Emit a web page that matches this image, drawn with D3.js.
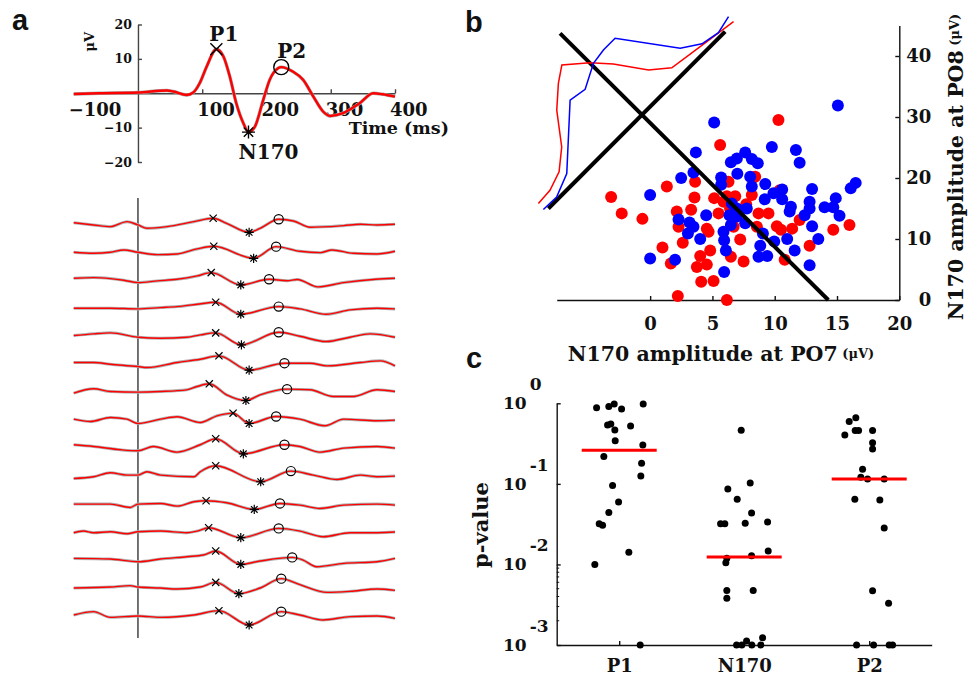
<!DOCTYPE html>
<html>
<head>
<meta charset="utf-8">
<script src="https://cdn.jsdelivr.net/npm/d3@7"></script>
<style>
  body { margin: 0; background: #fff; }
  svg text { font-family: "DejaVu Serif", serif; font-weight: bold; fill: #111; }
  .letter { font-family: "Liberation Sans", Arial, sans-serif; font-size: 29px; }
</style>
</head>
<body>
<script>
// ---------- panel a : grand average ERP ----------
const erpTime = [-100, -60, 0, 45, 55, 76, 86, 96, 107, 122, 133, 143, 153, 164, 172, 182, 195, 205, 218, 223, 241, 257, 273, 288, 299, 319, 345, 366, 381, 400];
const erpAmp = [-0.2, 0, 0.2, 0.8, 0.5, -0.5, 0.2, 2.9, 7.8, 12.8, 10.7, 4.8, -2.9, -8.7, -11.3, -9.7, -1.9, 3.9, 7.3, 7.6, 6.3, 3.9, -1.0, -5.3, -6.6, -5.8, -2.9, 0, -0.3, -1.0];
const erpTicksX = [-100, 100, 200, 300, 400];
const erpTicksY = [-20, -10, 10, 20];
const peakNames = ['P1', 'N170', 'P2'];
const peakLat = [122, 172, 223];
const peakAmp = [12.8, -11.3, 7.6];

// single subject traces: [ms, μV] knots, peaks are kept apart
const traceKnots = [
  [[-100,3.3],[-69,-1.3],[-43,-4.7],[-17,5.3],[0,-1.3],[14,-8],[45,-4.7],[87,5.3],[138,2],[190,-8],[242,6.7],[268,-6],[320,-2.7],[346,0],[372,-1.3],[400,0]],
  [[-100,0],[-69,-2],[-43,0],[-22,4.7],[0,0],[30,-4.7],[61,-3.3],[92,6.7],[252,2],[284,-0.7],[302,4.7],[335,-2],[372,-3.3],[400,2]],
  [[-100,4],[-69,5.3],[-43,3.3],[-22,0],[0,-4.7],[30,-1.3],[61,2],[92,8.7],[232,-1],[248,1.5],[280,-13.3],[320,-4.7],[370,2],[400,4]],
  [[-100,0],[-69,0],[-43,0],[0,-1.3],[35,1.3],[61,3.3],[92,8],[252,-1.3],[293,-12],[330,-3.3],[372,0],[400,-1.3]],
  [[-100,1.3],[-69,4.7],[-43,6.7],[0,-2],[35,-4],[76,-2],[97,2.7],[252,0],[293,-10.7],[330,-2],[361,4.7],[400,-2]],
  [[-100,3.3],[-69,3.3],[-43,0],[0,-4.7],[14,-6.7],[61,3.3],[97,10],[268,2],[294,-3.3],[346,3.3],[377,6.7],[400,-3.3]],
  [[-100,-2],[-69,6.7],[-43,1.3],[0,0],[35,1.3],[76,4.7],[92,11.3],[138,-5.3],[190,-5.3],[268,4.7],[304,-8.7],[335,-8.7],[372,4.7],[400,1.3]],
  [[-100,2],[-74,-2.7],[-43,5.3],[-17,2],[0,-6.7],[35,2],[61,6.7],[97,-4.7],[123,8.7],[252,2],[291,-11.3],[320,2],[372,-1.3],[400,0]],
  [[-100,6.7],[-69,3.3],[-27,-3.3],[0,-5.3],[24,3.3],[61,-8],[97,6.7],[252,3.3],[283,-8],[320,0],[372,3.3],[400,0]],
  [[-100,-4.7],[-69,-1.3],[-43,6.7],[-17,2],[0,2],[14,8.7],[35,2],[87,-1.3],[97,8.7],[273,2],[310,-6.7],[346,2],[372,-1.3],[400,0]],
  [[-100,0],[-43,0],[-12,-6.7],[0,0],[35,1.3],[61,-4],[87,4.7],[138,2.7],[252,-2],[283,-8.7],[320,-2],[372,0],[400,-2]],
  [[-100,-1.3],[-85,2],[-69,-1.3],[-43,0.7],[-17,-3.3],[0,0.7],[35,2],[76,-1.3],[92,2],[252,2],[288,-9.3],[330,-1.3],[372,-1.3],[400,0]],
  [[-100,3.3],[-43,2],[0,-3.3],[35,2],[76,6.7],[102,10],[190,-2],[257,0],[278,-13.3],[320,-6.7],[372,-3.3],[400,3.3]],
  [[-100,0],[-43,2],[-12,4.7],[0,2],[35,0],[61,-2],[97,2],[190,0],[252,6.7],[294,-8.7],[330,-6.7],[372,-2],[400,-4.7]],
  [[-100,2],[-69,8.7],[-43,-2.7],[0,0],[35,-2.7],[87,2],[252,2],[288,-8],[330,-1.3],[372,0],[400,-4.7]]
];
const traceP1 = [[117,12],[118,12],[114,15.3],[121,12],[121,6.7],[126,16.7],[111,16.7],[148,14],[121,18.7],[121,20.7],[106,6.7],[110,8.7],[121,18],[121,11.3],[126,10.7]];
const traceN170 = [[173,-16],[180,-12],[160,-9.3],[160,-12],[161,-17.3],[173,-12],[168,-16.7],[173,-6.7],[164,-11.3],[191,-11.3],[181,-10.7],[160,-11.3],[160,-8.7],[157,-11.3],[173,-18]];
const traceP2 = [[219,10],[215,11.3],[204,2],[219,3.3],[219,8],[228,2],[232,6],[215,7.3],[228,6.7],[238,10],[221,1.3],[219,7.3],[240,5.3],[223,18.7],[223,8.7]];

// ---------- panel b : N170 amplitudes PO7 vs PO8 ----------
const blueX = [15.07, 5.14, 9.77, 11.7, 12.0, 3.67, 7.63, 6.96, 6.48, 8.16, 8.64, 7.0, 3.48, 2.49, 5.70, 5.70, 8.03, 8.16, 9.24, 0, 10.6, 9.9, 9.2, 10.6, 11.3, 11.2, 13.0, 12.8, 12.8, 12.4, 14.0, 14.9, 14.7, 15.2, 16.1, 16.5, 13.0, 13.5, 12.8, 11.6, 11.0, 9.96, 9.05, 8.84, 8.7, 9.4, 7.63, 7.76, 6.96, 6.37, 6.56, 6.96, 6.48, 5.89, 5.94, 6.08, 5.94, 4.5, 4.02, 2.28, 3.16, 3.48, 3.03, 0, 2.0];
const blueY = [31.9, 29.1, 25.1, 24.6, 22.5, 24.2, 24.2, 23.2, 22.6, 23.1, 22.4, 20.7, 20.9, 20.0, 20.1, 18.9, 20.2, 18.6, 19.0, 17.2, 18.1, 17.5, 16.5, 16.5, 15.3, 14.5, 18.2, 16.1, 15.0, 13.9, 15.2, 16.7, 15.2, 13.8, 18.3, 19.2, 12.1, 10.0, 5.7, 8.1, 10.0, 9.6, 10.9, 8.9, 7.1, 7.2, 12.6, 15.0, 13.7, 13.9, 15.8, 15.0, 12.3, 11.2, 9.8, 8.1, 4.6, 13.9, 10.0, 13.2, 12.7, 12.0, 10.9, 6.8, 6.6];
const redX = [10.3, 5.62, 1.34, -3.13, -2.28, -0.62, 3.61, 3.56, 2.14, 3.29, 2.28, 2.62, 0.99, 1.66, 2.22, 6.16, 4.1, 5.09, 3.75, 4.55, 4.02, 4.82, 4.69, 4.55, 5.14, 5.49, 6.29, 6.16, 6.83, 5.89, 6.48, 7.5, 7.23, 6.7, 8.16, 7.71, 8.7, 9.5, 8.57, 10.17, 10.5, 11.4, 12.0, 10.4, 10.8, 12.8, 14.7, 16.0, 8.43, 6.42];
const redY = [29.5, 25.4, 18.6, 16.9, 14.2, 13.3, 19.4, 16.8, 14.5, 14.8, 12.0, 9.4, 8.6, 6.0, 0.66, 0, 3.0, 3.1, 5.4, 5.8, 7.2, 8.1, 11.2, 11.7, 16.7, 14.2, 19.4, 17.0, 17.0, 16.1, 7.1, 6.3, 9.9, 12.0, 17.2, 15.7, 14.2, 14.2, 12.0, 12.1, 11.5, 11.7, 13.1, 18.0, 6.6, 8.9, 11.5, 12.3, 20.2, 15.0];
const ampTicksX = [0, 5, 10, 15, 20];
const ampTicksY = [0, 10, 20, 30, 40];
const cutLine = [[-7.23, 43.7], [14.3, 0]];
const projLine = [[-8.17, 15.0], [6.02, 44.0]];
// [position along projLine (0..1), density]
const blueDensity = [[-0.017,0.028],[0.056,0.023],[0.151,0.117],[0.368,0.612],[0.441,0.582],[0.538,0.707],[0.604,0.731],[0.670,0.731],[0.826,0.200],[0.900,0.077],[0.978,0.040],[1.052,0.082]];
const redDensity = [[-0.014,0.106],[0.056,0.117],[0.134,0.183],[0.212,0.341],[0.302,0.636],[0.382,0.813],[0.444,0.919],[0.530,0.735],[0.592,0.561],[0.675,0.271],[0.747,0.122],[0.854,0.082],[1.052,0.011]];

// ---------- panel c : p-values ----------
const pCategories = ['P1', 'N170', 'P2'];
// [jitter (fraction of band), p-value]
const pvalP1 = [[-0.181,0.883],[-0.083,0.910],[-0.040,0.981],[0.019,0.851],[0.192,0.981],[-0.093,0.538],[-0.067,0.554],[-0.035,0.467],[0.091,0.523],[-0.032,0.344],[0.189,0.304],[-0.123,0.218],[0.179,0.180],[0.173,0.125],[-0.053,0.0952],[-0.005,0.0597],[-0.083,0.0440],[-0.160,0.0321],[-0.133,0.0306],[0.077,0.0142],[-0.195,0.00996],[0.168,0.001]];
const pvalN170 = [[-0.024,0.462],[0.048,0.1027],[-0.131,0.0865],[-0.056,0.0644],[0.059,0.0436],[-0.189,0.0321],[-0.155,0.0321],[0.008,0.0324],[0.187,0.0337],[0.192,0.0147],[0.059,0.0128],[-0.139,0.0119],[-0.147,0.0105],[-0.139,0.00474],[-0.139,0.00381],[0.072,0.00474],[-0.061,0.001],[-0.019,0.001],[0.019,0.00112],[0.061,0.001],[0.133,0.001],[0.147,0.00123]];
const pvalP2 = [[-0.107,0.664],[-0.160,0.593],[-0.195,0.405],[-0.112,0.458],[-0.085,0.458],[0.027,0.458],[0.027,0.325],[0.027,0.271],[-0.053,0.152],[-0.067,0.121],[-0.013,0.115],[0.120,0.115],[-0.115,0.0644],[0.085,0.0632],[0.120,0.0284],[0.027,0.0047],[0.155,0.0033],[-0.101,0.001],[0.035,0.001],[0.160,0.001],[0.187,0.001]];
const pTicks = [1e-3, 1e-2, 1e-1, 1];

const svg = d3.select('body').append('svg').attr('width', 970).attr('height', 678);

function cross(g, x, y, s, w) {
  g.append('path').attr('d', `M${x-s},${y-s}L${x+s},${y+s}M${x-s},${y+s}L${x+s},${y-s}`)
    .attr('stroke', '#000').attr('stroke-width', w).attr('fill', 'none');
}
function star(g, x, y, s, w) {
  const d = s * 0.72;
  g.append('path').attr('d', `M${x},${y-s}V${y+s}M${x-s},${y}H${x+s}M${x-d},${y-d}L${x+d},${y+d}M${x-d},${y+d}L${x+d},${y-d}`)
    .attr('stroke', '#000').attr('stroke-width', w).attr('fill', 'none');
}
function ring(g, x, y, r, w) {
  g.append('circle').attr('cx', x).attr('cy', y).attr('r', r)
    .attr('stroke', '#000').attr('stroke-width', w).attr('fill', 'none');
}
const markerFns = [cross, star, ring];

// the d3 axis sets its own font on call, so restyle afterwards
function styleAxis(a, size, color) {
  a.attr('font-size', size).attr('font-family', 'DejaVu Serif');
  a.select('.domain').attr('stroke', color).attr('stroke-width', 1.4);
  a.selectAll('.tick line').attr('stroke', color).attr('stroke-width', 1.4);
  a.selectAll('.tick text').style('fill', '#111');
}

// ================= panel a (top) =================
const xA = d3.scaleLinear().domain([-100, 400]).range([73.7, 395]);
const yA = d3.scaleLinear().domain([-20, 20]).range([162, 24.5]);
const gTop = svg.append('g');

const axXA = gTop.append('g')
  .attr('transform', `translate(0,${yA(0)})`)
  .call(d3.axisBottom(xA).tickValues(erpTicksX).tickSize(-4).tickSizeOuter(0).tickPadding(10).tickFormat(d3.format('d')));
styleAxis(axXA, 18, '#444');
axXA.selectAll('.tick text').attr('text-anchor', 'start').attr('x', -5.5);
axXA.selectAll('.tick').filter(d => d === -100).select('line').remove();

const axYA = gTop.append('g')
  .attr('transform', `translate(${xA(0)},0)`)
  .call(d3.axisLeft(yA).tickValues(erpTicksY).tickSize(-4).tickSizeOuter(0).tickPadding(6));
styleAxis(axYA, 12.5, '#444');

gTop.append('text').attr('transform', `translate(${xA(0) - 44},${yA(15)}) rotate(-90)`)
  .attr('text-anchor', 'middle').attr('font-size', 13).text('μV');
gTop.append('text').attr('x', 449).attr('y', 134).attr('text-anchor', 'end')
  .attr('font-size', 17.5).text('Time (ms)');

const erpPts = erpTime.map((t, i) => [t, erpAmp[i]]);
const erpLine = d3.line().x(d => xA(d[0])).y(d => yA(d[1])).curve(d3.curveMonotoneX);
gTop.append('path').attr('d', erpLine(erpPts)).attr('fill', 'none').attr('stroke', '#a8a8a8').attr('stroke-width', 3.4);
gTop.append('path').attr('d', erpLine(erpPts)).attr('fill', 'none').attr('stroke', '#f00').attr('stroke-width', 2.4);

const peakMarkSize = [6, 6.5, 7.5];
const peakLabelOffset = [[-7, -8], [-10, 27], [-4, -9]];
peakNames.forEach((name, i) => {
  const px = xA(peakLat[i]), py = yA(peakAmp[i]);
  markerFns[i](gTop, px, py, peakMarkSize[i], 1.4);
  gTop.append('text').attr('x', px + peakLabelOffset[i][0]).attr('y', py + peakLabelOffset[i][1])
    .attr('font-size', 20).text(name);
});

// ================= panel a (single traces) =================
const gTr = svg.append('g');
const rowY = d3.scalePoint().domain(d3.range(traceKnots.length)).range([224.3, 616]);
const ampT = d3.scaleLinear().domain([-20, 20]).range([10, -10]);

gTr.append('line').attr('x1', xA(0)).attr('x2', xA(0)).attr('y1', 198).attr('y2', 638)
  .attr('stroke', '#444').attr('stroke-width', 1.5);

traceKnots.forEach((knots, i) => {
  const y0 = rowY(i);
  const pts = knots.concat([traceP1[i], traceN170[i], traceP2[i]]).sort((a, b) => a[0] - b[0]);
  const line = d3.line().x(d => xA(d[0])).y(d => y0 + ampT(d[1])).curve(d3.curveMonotoneX);
  gTr.append('path').attr('d', line(pts)).attr('fill', 'none').attr('stroke', '#b0b0b0').attr('stroke-width', 3);
  gTr.append('path').attr('d', line(pts)).attr('fill', 'none').attr('stroke', '#f00').attr('stroke-width', 1.4);
  [traceP1[i], traceN170[i], traceP2[i]].forEach((p, k) => {
    markerFns[k](gTr, xA(p[0]), y0 + ampT(p[1]), [3.6, 4.6, 4.6][k], 1.2);
  });
});

// ================= panel b =================
const xB = d3.scaleLinear().domain([-7.5, 20]).range([556.7, 899.3]);
const yB = d3.scaleLinear().domain([0, 45]).range([300, 25.5]);
const gB = svg.append('g');

const axXB = gB.append('g').attr('transform', `translate(0,${yB(0)})`)
  .call(d3.axisBottom(xB).tickValues(ampTicksX).tickSize(-4).tickSizeOuter(0).tickPadding(17));
styleAxis(axXB, 18, '#111');
const axYB = gB.append('g').attr('transform', `translate(${xB(20)},0)`)
  .call(d3.axisRight(yB).tickValues(ampTicksY).tickSize(-4).tickSizeOuter(0));
styleAxis(axYB, 18, '#111');
axYB.selectAll('.tick text').attr('text-anchor', 'end').attr('x', 32);

redX.forEach((x, i) => {
  gB.append('circle').attr('cx', xB(x)).attr('cy', yB(redY[i])).attr('r', 6).attr('fill', '#ff0000');
});
blueX.forEach((x, i) => {
  gB.append('circle').attr('cx', xB(x)).attr('cy', yB(blueY[i])).attr('r', 6).attr('fill', '#0000ff');
});

[cutLine, projLine].forEach(l => {
  gB.append('line').attr('x1', xB(l[0][0])).attr('y1', yB(l[0][1]))
    .attr('x2', xB(l[1][0])).attr('y2', yB(l[1][1]))
    .attr('stroke', '#000').attr('stroke-width', 4);
});

const P0 = [xB(projLine[0][0]), yB(projLine[0][1])];
const P1 = [xB(projLine[1][0]), yB(projLine[1][1])];
const projLen = Math.hypot(P1[0] - P0[0], P1[1] - P0[1]);
const ux = (P1[0] - P0[0]) / projLen, uy = (P1[1] - P0[1]) / projLen;
const nx = uy, ny = -ux;
const dens = d3.scaleLinear().domain([0, 1]).range([0, 100]);
const densLine = d3.line()
  .x(d => P0[0] + d[0] * projLen * ux + dens(d[1]) * nx)
  .y(d => P0[1] + d[0] * projLen * uy + dens(d[1]) * ny);
gB.append('path').attr('d', densLine(redDensity)).attr('fill', 'none').attr('stroke', '#ff0000').attr('stroke-width', 1.5);
gB.append('path').attr('d', densLine(blueDensity)).attr('fill', 'none').attr('stroke', '#0000ff').attr('stroke-width', 1.5);

const xTitle = gB.append('text').attr('x', 721).attr('y', 361).attr('text-anchor', 'middle').attr('font-size', 20.5);
xTitle.append('tspan').text('N170 amplitude at PO7');
xTitle.append('tspan').attr('font-size', 13).attr('dy', -3).text(' (μV)');
const yTitle = gB.append('text').attr('transform', 'translate(963,167) rotate(-90)')
  .attr('text-anchor', 'middle').attr('font-size', 20.5);
yTitle.append('tspan').text('N170 amplitude at PO8');
yTitle.append('tspan').attr('font-size', 13).attr('dy', -4).text(' (μV)');

// ================= panel c =================
const xC = d3.scalePoint().domain(pCategories).range([556.7, 931.7]).padding(0.5);
const yC = d3.scaleLog().domain([1e-3, 1]).range([645, 403.3]);
const gC = svg.append('g');

const axXC = gC.append('g').attr('transform', `translate(0,${yC(1e-3)})`)
  .call(d3.axisBottom(xC).tickSize(-4).tickSizeOuter(0).tickPadding(14));
styleAxis(axXC, 18, '#111');
const axYC = gC.append('g').attr('transform', `translate(${xC.range()[0]},0)`)
  .call(d3.axisLeft(yC).tickValues(pTicks).tickSize(-4).tickSizeOuter(0).tickPadding(30).tickFormat(() => '10'));
styleAxis(axYC, 17, '#111');
axYC.selectAll('.tick').append('text')
  .attr('x', -27).attr('y', -19).attr('dy', '0.32em').attr('text-anchor', 'start')
  .style('fill', '#111').text(d => String(Math.round(Math.log10(d))));
d3.range(2, 10).forEach(k => {
  gC.append('line').attr('x1', xC.range()[0]).attr('x2', xC.range()[0] + 2.5)
    .attr('y1', yC(k * 1e-3)).attr('y2', yC(k * 1e-3)).attr('stroke', '#111').attr('stroke-width', 1);
});

gC.append('text').attr('transform', 'translate(488,525) rotate(-90)').attr('text-anchor', 'middle')
  .attr('font-size', 21).text('p-value');

[pvalP1, pvalN170, pvalP2].forEach((vals, i) => {
  const cx = xC(pCategories[i]);
  vals.forEach(v => {
    gC.append('circle').attr('cx', cx + v[0] * xC.step()).attr('cy', yC(v[1])).attr('r', 3.5).attr('fill', '#000');
  });
  const med = d3.median(vals, v => v[1]);
  gC.append('line').attr('x1', cx - 0.3 * xC.step()).attr('x2', cx + 0.3 * xC.step())
    .attr('y1', yC(med)).attr('y2', yC(med)).attr('stroke', '#ff0000').attr('stroke-width', 3);
});

// panel letters
svg.append('text').attr('class', 'letter').attr('x', 12).attr('y', 30).text('a');
svg.append('text').attr('class', 'letter').attr('x', 465).attr('y', 32).text('b');
svg.append('text').attr('class', 'letter').attr('x', 466).attr('y', 368).text('c');
</script>
</body>
</html>
